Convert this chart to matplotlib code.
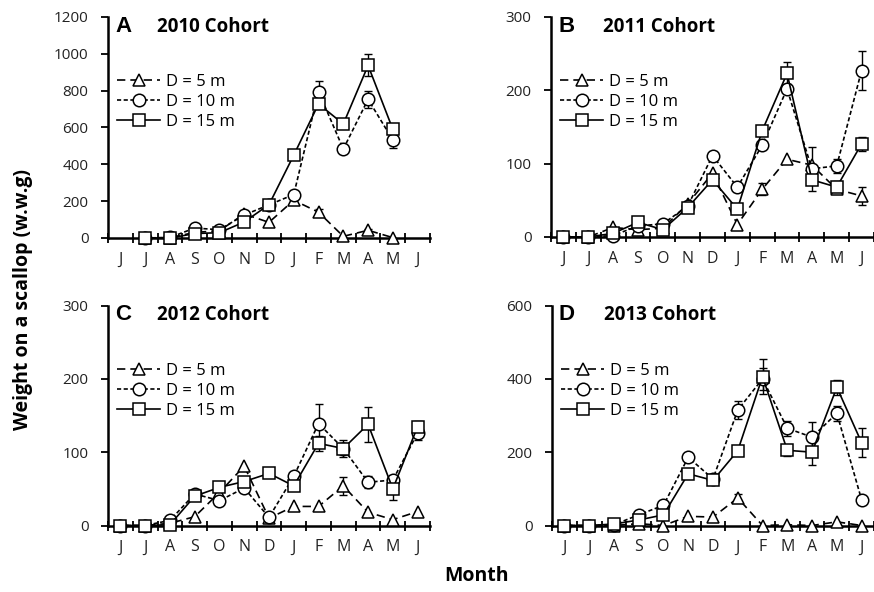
import numpy as np
import matplotlib.pyplot as plt

plt.rcParams['font.family'] = ['Open Sans', 'DejaVu Sans']

nan = np.nan
months = ['J', 'J', 'A', 'S', 'O', 'N', 'D', 'J', 'F', 'M', 'A', 'M', 'J']
depth_labels = ['D = 5 m', 'D = 10 m', 'D = 15 m']

# mean wet weight per scallop (g), June to June
w5_2010 = [nan, 0, 2, 30, 40, 130, 85, 205, 140, 9, 42, 2, nan]
w10_2010 = [nan, 0, 3, 54, 45, 125, 180, 236, 795, 483, 753, 532, nan]
w15_2010 = [nan, 0, 0, 24, 29, 87, 181, 450, 728, 619, 937, 590, nan]
e5_2010 = [0, 0, 0, 0, 0, 0, 0, 0, 15, 0, 8, 0, 0]
e10_2010 = [0, 0, 0, 0, 0, 0, 0, 0, 55, 0, 45, 45, 0]
e15_2010 = [0, 0, 0, 0, 0, 0, 0, 0, 20, 15, 60, 25, 0]

w5_2011 = [0, 0, 13, 10, 12, 45, 87, 17, 65, 106, 98, 65, 56]
w10_2011 = [0, 0, 2, 15, 18, 42, 111, 68, 125, 202, 93, 97, 227]
w15_2011 = [0, 0, 5, 20, 10, 40, 78, 38, 145, 223, 78, 68, 127]
e5_2011 = [0, 0, 0, 0, 0, 0, 0, 0, 8, 0, 0, 0, 12]
e10_2011 = [0, 0, 0, 0, 0, 0, 0, 0, 0, 0, 30, 10, 27]
e15_2011 = [0, 0, 0, 0, 0, 0, 0, 0, 0, 15, 0, 8, 10]

w5_2012 = [0, 0, 3, 12, 45, 81, 10, 26, 26, 54, 18, 8, 19]
w10_2012 = [0, 0, 7, 43, 34, 51, 11, 67, 139, 105, 59, 62, 126]
w15_2012 = [0, 0, 1, 40, 52, 60, 71, 54, 112, 105, 138, 50, 135]
e5_2012 = [0, 0, 0, 0, 0, 0, 0, 0, 0, 12, 0, 0, 0]
e10_2012 = [0, 0, 0, 0, 0, 0, 0, 0, 27, 8, 8, 0, 10]
e15_2012 = [0, 0, 0, 0, 0, 0, 0, 0, 10, 12, 24, 15, 8]

w5_2013 = [0, 0, 0, 5, 0, 25, 23, 75, 0, 2, 0, 10, 0]
w10_2013 = [0, 0, 2, 29, 55, 186, 127, 315, 400, 265, 241, 306, 70]
w15_2013 = [0, 0, 4, 15, 29, 141, 123, 204, 406, 205, 200, 377, 226]
e5_2013 = [0, 0, 0, 0, 0, 0, 0, 12, 0, 0, 0, 0, 0]
e10_2013 = [0, 0, 0, 0, 0, 0, 0, 25, 30, 20, 40, 20, 0]
e15_2013 = [0, 0, 0, 0, 0, 0, 0, 0, 47, 15, 35, 20, 40]

panels = [
    ('A', '2010 Cohort', 1200, 200, [w5_2010, w10_2010, w15_2010], [e5_2010, e10_2010, e15_2010]),
    ('B', '2011 Cohort', 300, 100, [w5_2011, w10_2011, w15_2011], [e5_2011, e10_2011, e15_2011]),
    ('C', '2012 Cohort', 300, 100, [w5_2012, w10_2012, w15_2012], [e5_2012, e10_2012, e15_2012]),
    ('D', '2013 Cohort', 600, 200, [w5_2013, w10_2013, w15_2013], [e5_2013, e10_2013, e15_2013]),
]

styles = [
    dict(marker='^', linestyle=(0, (5, 3)), markersize=8.5),
    dict(marker='o', linestyle=(0, (2.5, 1.5)), markersize=9),
    dict(marker='s', linestyle='-', markersize=8.5),
]

W, H = 874, 592
fig = plt.figure(figsize=(W / 100, H / 100), dpi=100)

# axes boxes in pixels: left, top, width, height
boxes = [(108, 17, 322, 221), (551, 17, 323, 220), (108, 305.5, 322, 220), (552, 305.5, 322, 220)]

x = np.arange(len(months))
for (letter, title, ymax, ystep, series, errs), (l, t, w, h) in zip(panels, boxes):
    ax = fig.add_axes([l / W, 1 - (t + h) / H, w / W, h / H])
    handles = []
    for y, e, st, lab in zip(series, errs, styles, depth_labels):
        y = np.array(y, dtype=float)
        e = np.array(e, dtype=float)
        m = e > 0
        if m.any():
            ax.errorbar(x[m], y[m], yerr=e[m], fmt='none', ecolor='black',
                        elinewidth=1, capsize=3, capthick=1, clip_on=False, zorder=2)
        ln, = ax.plot(x, y, color='black', lw=1.2, mfc='white', mec='black',
                      mew=1.1, clip_on=False, zorder=3, label=lab, **st)
        handles.append(ln)

    ax.set_xlim(-0.5, 12.5)
    ax.set_ylim(0, ymax)
    ax.set_yticks(np.arange(0, ymax + 1, ystep))
    ax.set_xticks(np.arange(-0.5, 13, 1))
    ax.set_xticklabels([])
    ax.set_xticks(x, minor=True)
    ax.set_xticklabels(months, minor=True)
    ax.tick_params(axis='x', which='major', direction='inout', length=7, width=1.3)
    ax.tick_params(axis='x', which='minor', length=0, pad=10, labelsize=11.5, labelcolor='#222222')
    ax.tick_params(axis='y', direction='out', length=5, width=1.3, pad=9, labelsize=11,
                   labelcolor='#222222')
    for s in ['top', 'right']:
        ax.spines[s].set_visible(False)
    for s in ['left', 'bottom']:
        ax.spines[s].set_linewidth(1.8)

    # panel letter and cohort title share a baseline ~15 px below the axes top
    yb = 1 - 15 / h
    ax.text(7 / w, yb, letter, transform=ax.transAxes, va='baseline', ha='left',
            fontsize=16, fontweight='bold', family='Liberation Sans')
    ax.text((49 if letter in 'AC' else 52) / w, yb, title, transform=ax.transAxes,
            va='baseline', ha='left', fontsize=13.5, fontweight='bold')

    ax.legend(handles=handles, loc='upper left', bbox_to_anchor=(9 / w, 1 - 57 / h),
              frameon=False, fontsize=12, handlelength=2.6, handletextpad=0.36,
              labelspacing=0.25, borderpad=0, borderaxespad=0)

fig.text(23 / W, 1 - 299 / H, 'Weight on a scallop (w.w.g)', rotation=90,
         ha='center', va='center', fontsize=14, fontweight='bold')
fig.text(476 / W, 1 - 576 / H, 'Month', ha='center', va='center',
         fontsize=14, fontweight='bold')

fig.savefig('out.png', dpi=100)
